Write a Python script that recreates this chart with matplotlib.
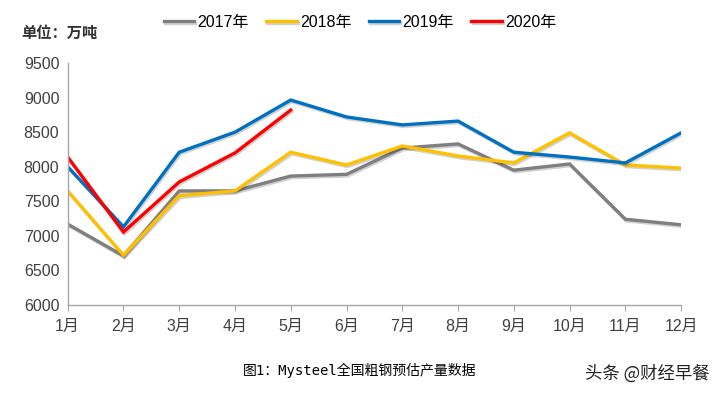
import matplotlib

matplotlib.use("Agg")
import matplotlib.pyplot as plt
import matplotlib.patheffects as pe

plt.rcParams["font.family"] = ["Liberation Sans", "Noto Sans CJK SC"]

months = ["1月", "2月", "3月", "4月", "5月", "6月",
          "7月", "8月", "9月", "10月", "11月", "12月"]
y2017 = [7170, 6710, 7650, 7650, 7865, 7890, 8270, 8330, 7950, 8040, 7240, 7160]
y2018 = [7650, 6720, 7580, 7650, 8210, 8025, 8300, 8155, 8055, 8490, 8025, 7980]
y2019 = [8000, 7130, 8210, 8500, 8965, 8720, 8605, 8660, 8210, 8140, 8055, 8490]
y2020 = [8140, 7055, 7780, 8200, 8820]
series = [("2017年", y2017, "#7F7F7F"), ("2018年", y2018, "#FFC000"),
          ("2019年", y2019, "#0070C0"), ("2020年", y2020, "#FF0000")]

fig = plt.figure(figsize=(7.2, 3.94), dpi=100)
ax = fig.add_axes([0.094, 0.226, 0.852, 0.614])

# soft Excel-style drop shadow under each line
shadow = [pe.SimpleLineShadow(offset=(0.8, -1.2), shadow_color="#000000", alpha=0.18),
          pe.Normal()]
for label, vals, color in series:
    x = list(range(len(vals)))
    ax.plot(x, vals, color=color, lw=2.4, label=label,
            solid_joinstyle="miter", path_effects=shadow)

ax.set_xlim(0, 11)
ax.set_ylim(6000, 9500)
ax.set_xticks(range(12))
ax.set_xticklabels(months)
ax.set_yticks(range(6000, 9501, 500))
ax.tick_params(axis="y", length=0, labelsize=11.5, colors="#404040", pad=6)
ax.tick_params(axis="x", length=4, color="#A6A6A6", labelsize=11.5,
               labelcolor="#404040", pad=6)
for s in ["top", "right"]:
    ax.spines[s].set_visible(False)
for s in ["left", "bottom"]:
    ax.spines[s].set_color("#A6A6A6")
    ax.spines[s].set_linewidth(1.0)

fig.legend(loc="center", bbox_to_anchor=(0.5, 0.944), ncol=4, frameon=False,
           fontsize=11.5, handlelength=1.9, columnspacing=1.1, handletextpad=0.2)

fig.text(0.03, 0.915, "单位：万吨", fontsize=11, fontweight="bold",
         color="#333333", va="center")
fig.text(0.5, 0.06, "图1：Mysteel全国粗钢预估产量数据", fontsize=10,
         ha="center", va="center", family=["DejaVu Sans Mono", "Noto Sans CJK SC"])
fig.text(0.985, 0.052, "头条 @财经早餐", fontsize=12.5, ha="right", va="center",
         color="#222222", family=["Noto Sans CJK SC"])

fig.savefig("out.png", dpi=100)
